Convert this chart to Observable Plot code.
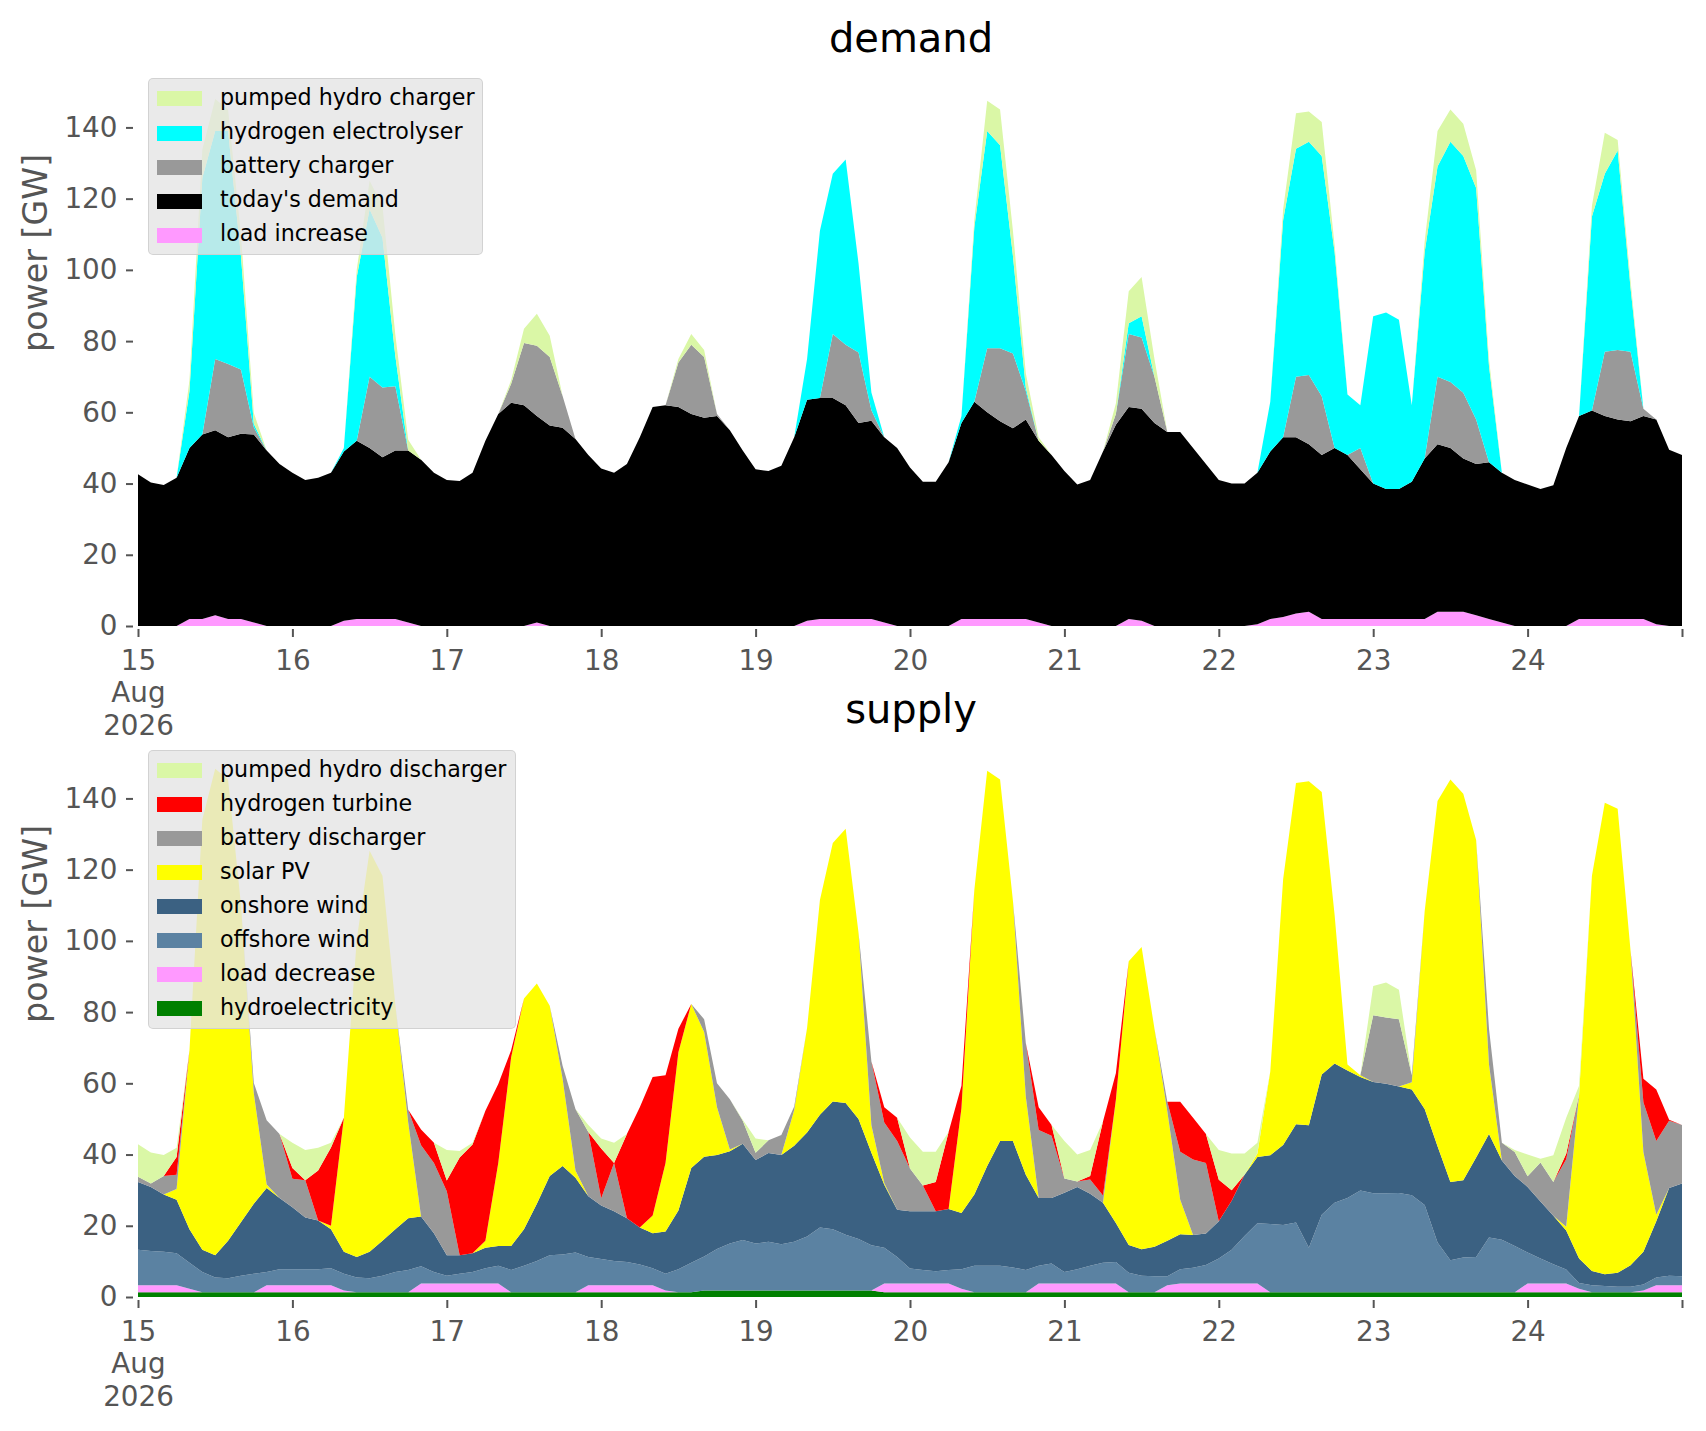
<!DOCTYPE html>
<html>
<head>
<meta charset="utf-8">
<script src="https://cdn.jsdelivr.net/npm/d3@7"></script>
<script src="https://cdn.jsdelivr.net/npm/@observablehq/plot@0.6"></script>
<style>
  html, body { margin: 0; padding: 0; background: #fff; }
  #fig { position: relative; width: 1706px; height: 1431px; overflow: hidden; font-family: "DejaVu Sans", sans-serif; background: #fff; }
  .panel { position: absolute; left: 0; }
  .legend { position: absolute; box-sizing: border-box; background: rgba(229,229,229,0.8); border: 1.5px solid rgba(204,204,204,0.8); border-radius: 5px; font-family: "DejaVu Sans", sans-serif; font-size: 22.2px; color: #000; }
  .legend .sw { position: absolute; left: 8px; width: 45px; height: 15px; }
  .legend .lb { position: absolute; left: 71px; height: 34px; line-height: 34px; white-space: nowrap; }
</style>
</head>
<body>
<div id="fig"></div>
<script>
// ---------- time axis: 2-hourly samples from 15 Aug 2026 00:00 to 25 Aug 2026 00:00 ----------
const t0 = Date.UTC(2026, 7, 15);
const hours = d3.range(0, 241, 2);
const dates = hours.map(h => new Date(t0 + h * 3600e3));

const tickDays = [15, 16, 17, 18, 19, 20, 21, 22, 23, 24, 25];
const tickLabels = ["15\nAug\n2026", "16", "17", "18", "19", "20", "21", "22", "23", "24", ""];
const yTicks = [0, 20, 40, 60, 80, 100, 120, 140];

// ---------- demand series (GW) ----------
const loadIncrease = [
  0,0,0,0,2,2,3,2,2,1,
  0,0,0,0,0,0,1.5,2,2,2,
  2,1,0,0,0,0,0,0,0,0,
  0,1,0,0,0,0,0,0,0,0,
  0,0,0,0,0,0,0,0,0,0,
  0,0,1.5,2,2,2,2,2,1,0,
  0,0,0,0,2,2,2,2,2,2,
  1,0,0,0,0,0,0,2,1.5,0,
  0,0,0,0,0,0,0,0.5,2,2.5,
  3.5,4,2,2,2,2,2,2,2,2,
  2,4,4,4,3,2,1,0,0,0,
  0,0,2,2,2,2,2,2,0.5,0,
  0];
const todaysDemand = [
  42.6,40.3,39.6,41.6,48,51.8,52,51,52,52.8,
  49.3,45.5,43,41,41.6,43,47.5,50,48,45.4,
  47.3,48.3,46.7,43,41,40.7,43,52,59.5,62.7,
  62,58,56.3,55.7,52.5,48,44.2,43,45.5,53,
  61.5,62,61.5,59.5,58.5,59,55,49.3,44,43.5,
  45,53,62,62,62,60,55,55.6,52,50,
  44.5,40.5,40.5,46,55,61,58,55.5,53.5,56,
  51,48,43.5,39.7,41,49,56.5,59.5,59.5,57,
  54.5,54.5,50,45.5,41,40,40,42.5,47,50.5,
  49.5,47,46,48,46,42,38,36.5,36.5,38.5,
  45,47,46,43,42.5,44,42,41,39.7,38.5,
  39.5,50,57,58.5,57,56,55.5,57,57.5,49.5,
  48];
const batteryCharger = [
  0,0,0,0,0,0,20,20.6,18,2,
  0,0,0,0,0,0,0,0,20,19.6,
  18,0,0,0,0,0,0,0,0,5.3,
  17.5,19.7,19.2,8.9,0,0,0,0,0,0,
  0,0,12.5,19.5,17,0.5,0,0,0,0,
  0,0,0,0,18,17,19.8,3,0,0,
  0,0,0,0,0,0,18,20.5,21,8,
  0,0,0,0,0,0,3,20.5,20,13,
  0,0,0,0,0,0,0,0,0,0,
  17,19.5,16.5,0,0,6,0,0,0,0,
  0,19,18.5,18.5,12.5,0,0,0,0,0,
  0,0,0,0,18,19.5,19.5,2,0,0,
  0];
const hydrogenElectrolyser = [
  0,0,0,0,16,72,64,65.4,32,1,
  0,0,0,0,0,0,1,46,47,42,
  8.5,0,0,0,0,0,0,0,0,0,
  0,0,0,0,0,0,0,0,0,0,
  0,0,0,0,0,0,0,0,0,0,
  0,0,11.5,47,45,52,25,5,0,0,
  0,0,0,0,2,49,61,57,27.5,1,
  0,0,0,0,0,0,0,3,6,0,
  0,0,0,0,0,0,0,0,14,61,
  64,65.5,67.5,55,17,12,47,49.5,47.5,21.5,
  58,59,67.5,66.5,65,27,0,0,0,0,
  0,0,0,54.5,50,56,18,0,0,0,
  0];
const pumpedHydroCharger = [
  0,0,0,0,3,8,9,6,6,3,
  0,0,0,0,0,0,0,2,8,9,
  6,3,0,0,0,0,0,0,0,1,
  4,9,6,0,0,0,0,0,0,0,
  0,0,1,3,2,0,0,0,0,0,
  0,0,0,0,0,0,0,0,0,0,
  0,0,0,0,0,2,8.5,10,7,4,
  1,0,0,0,0,0,3,9,11,5,
  0,0,0,0,0,0,0,0,0,3,
  10,8.5,9.5,2,0,0,0,0,0,0,
  3,10,9,9,5,2,0,0,0,0,
  0,0,0,3,11.5,3,2,0,0,0,
  0];

// ---------- supply series (GW) ----------
const hydroelectricity = [
  1.3,1.3,1.3,1.3,1.3,1.3,1.3,1.3,1.3,1.3,
  1.3,1.3,1.3,1.3,1.3,1.3,1.3,1.3,1.3,1.3,
  1.3,1.3,1.3,1.3,1.3,1.3,1.3,1.3,1.3,1.3,
  1.3,1.3,1.3,1.3,1.3,1.3,1.3,1.3,1.3,1.3,
  1.3,1.3,1.3,1.3,1.8,1.8,1.8,1.8,1.8,1.8,
  1.8,1.8,1.8,1.8,1.8,1.8,1.8,1.8,1.3,1.3,
  1.3,1.3,1.3,1.3,1.3,1.3,1.3,1.3,1.3,1.3,
  1.3,1.3,1.3,1.3,1.3,1.3,1.3,1.3,1.3,1.3,
  1.3,1.3,1.3,1.3,1.3,1.3,1.3,1.3,1.3,1.3,
  1.3,1.3,1.3,1.3,1.3,1.3,1.3,1.3,1.3,1.3,
  1.3,1.3,1.3,1.3,1.3,1.3,1.3,1.3,1.3,1.3,
  1.3,1.3,1.3,1.3,1.3,1.3,1.3,1.3,1.3,1.3,
  1.3];
const loadDecrease = [
  2,2,2,2,1,0,0,0,0,0,
  2,2,2,2,2,2,0.5,0,0,0,
  0,0,2.5,2.5,2.5,2.5,2.5,2.5,2.5,0,
  0,0,0,0,0,2,2,2,2,2,
  2,0.5,0,0,0,0,0,0,0,0,
  0,0,0,0,0,0,0,0,2.5,2.5,
  2.5,2.5,2.5,2.5,1,0,0,0,0,0,
  2.5,2.5,2.5,2.5,2.5,2.5,2.5,0,0,0,
  2,2.5,2.5,2.5,2.5,2.5,2.5,2.5,0,0,
  0,0,0,0,0,0,0,0,0,0,
  0,0,0,0,0,0,0,0,2.5,2.5,
  2.5,2.5,1,0,0,0,0,0.5,2,2,
  2];
const offshoreWind = [
  10,9.6,9.4,9,7.3,5.7,4.2,4,4.7,5.2,
  3.7,4.5,4.5,4.5,4.5,4.8,4.7,4.2,4,4.7,
  5.7,6.3,4.8,3.2,2.2,2.7,3.2,4.3,5,6.3,
  7.5,8.8,10.4,10.6,11.2,7.9,7.4,6.8,6.5,5.8,
  4.8,4.7,6.5,8.3,9.6,11.7,13.2,14.2,13.2,13.7,
  13,13.7,15.2,17.7,17.2,15.7,14.5,12.7,10,7.4,
  4.2,3.8,3.4,3.8,5.5,7.5,7.5,7.5,7,6.3,
  5,5.6,3.2,4,5,5.8,6,5.5,4.7,4.5,
  2.5,4,4.4,5.2,7,9.5,13.3,16.9,19.2,18.9,
  19.6,12.5,21.8,25.2,26.5,28.6,27.8,27.8,27.9,27.3,
  24.5,14,9,9.8,9.9,15.4,14.8,13,8.7,7,
  5.4,3.9,1.6,2,1.8,1.6,1.6,1.7,2.2,2.7,
  2.5];
const onshoreWind = [
  19,18,16.1,15,9.4,6.3,6.2,10.5,15,19.7,
  23.6,20,17.4,14.5,13.7,10.9,6.2,5.7,7.4,9.8,
  12,14.5,14,10.9,5.7,5.2,5.3,5.7,5.5,6.7,
  10.2,16.1,22.3,24.9,21,17.1,15,14,12.3,10.4,
  9.8,11.9,16.5,26.6,28,26.4,25.9,27,23.5,24.9,
  25.1,27,29.2,31.7,35.9,37,33.7,26,17.7,13.3,
  16.1,16.5,16.9,17.1,15.8,20,28,35,35.5,26.7,
  19,18.4,22.3,23.1,20.2,16.9,11,7.8,7.4,8.3,
  10,9.8,9.2,8.8,10.5,13.7,17.2,18.6,19.3,22.5,
  27.6,34.4,39.4,39.1,35.8,31.9,31.3,30.8,29.9,29.7,
  27,27,22,21.7,28,29.1,22.2,19.7,18.4,16,
  13.6,11,6.9,4,3.3,3.9,6,9.2,15.8,24.6,
  26.1];
const solarPV = [
  0,0,0,3,50.3,120.8,136.6,129.5,89.3,31,
  1,0,0,0,0,1,37.6,89.1,112.6,102.5,
  63.1,26.9,0,0,0,0,0,2,23.3,53,
  64.8,61.8,47.8,24.5,2,0,0,0,0,0,
  5,19.2,44.4,46.1,35,13.4,0.5,0,0,0,
  0,10,29.3,60.3,72.6,77,52.3,7.7,0.5,0,
  0,0,0,0,29.5,85.5,111,101.5,67.5,22,
  0,0,0,0,0,0,34.5,79.7,84.9,61.2,
  36.3,9.7,0,0,0,0,0,1,23.5,74.6,
  95.8,96.6,79.3,41.7,1.7,0.5,0,0,0,2,
  55.5,97,113,108.5,89.1,19.5,0,0,0,0,
  0,1,46,111,132.4,130.3,88.4,28,1.8,0,
  0];
const batteryDischarger = [
  1.5,1,5.2,4,0,0,0,0,0,2.9,
  18,18,8,10.5,0,0,0,0,0,0,
  0,3.6,20,19.7,18,0,0,0,0,0,
  0,0,0,3.6,17.3,18,2,13.5,0,0,
  0,0,0,0,3.6,6.7,14.1,6.5,2,3.6,
  5.6,1,0,0,0,0,0,17.9,17,19.3,
  12,7.2,0,0,0,0,0,0,0,15,
  19.1,17.5,4,1.5,4,2,0,0,0,0,
  2.7,13.5,21.2,19.8,0,0,0,0,0,0,
  0,0,0,0,0,0,18.7,18.6,18.9,2,
  0,0,0,0,0,10,5,6.7,3,11,
  9.5,19,0,0,0,0,0,14,20.7,18.9,
  16.4];
const hydrogenTurbine = [
  0,0,0,5,0,0,0,0,0,0,
  0,0,3,0,14,22,0,0,0,0,
  0,0,4.4,5.7,3,27.5,30.5,36.5,22.2,2,
  0,0,0,0,0,0,14,0,23.7,33.8,
  38.9,24.7,6.6,0,0,0,0,0,0,0,
  0,0,0,0,0,0,0,0,4.3,6.5,
  0,0,8.2,21.6,6.2,0,0,0,0,0,
  6.4,3,0,0,1,20.8,7.5,0,0,0,
  0,14,11.7,8.2,11.6,3,0,0,0,0,
  0,0,0,0,0,0,0,0,0,0,
  0,0,0,0,0,0,0,0,0,0,
  0,1.5,0,0,0,0,0,6.6,14.5,0.3,
  0];
const pumpedHydroDischarger = [
  9.1,8.7,5.9,2.6,0,0,0,0,0,0,
  0,0,7.1,8.5,6.4,1.3,0,0,0,0,
  0,0,0,0,8.6,1.8,0.5,0,0,0,
  0,0,0,0,0,2,2.8,5.7,0,0,
  0,0,0,0,0,0,0,0.3,4,0,
  0,0,0,0,0,0,0,0,0,0,
  8.7,9.5,8.5,0,0,0,0,0,0,0,
  0,0,10.5,7.6,7.3,0,0,0,0,0,
  0,0,0,0,8.4,10.3,6,3,0,0,
  0,0,0,0,0,0,8.2,9.8,8.3,0,
  0,0,0,0,0,0,0,0.6,6.1,1,
  7.5,10.1,2.5,0,0,0,0,0,0,0,
  0];

// ---------- series definitions (bottom of stack first) ----------
const demandSeries = [
  ["load increase", loadIncrease, "#ff99ff"],
  ["today's demand", todaysDemand, "#000000"],
  ["battery charger", batteryCharger, "#999999"],
  ["hydrogen electrolyser", hydrogenElectrolyser, "#00ffff"],
  ["pumped hydro charger", pumpedHydroCharger, "#daf7a6"]
];
const supplySeries = [
  ["hydroelectricity", hydroelectricity, "#008000"],
  ["load decrease", loadDecrease, "#ff99ff"],
  ["offshore wind", offshoreWind, "#5b82a2"],
  ["onshore wind", onshoreWind, "#3b6182"],
  ["solar PV", solarPV, "#ffff00"],
  ["battery discharger", batteryDischarger, "#999999"],
  ["hydrogen turbine", hydrogenTurbine, "#ff0000"],
  ["pumped hydro discharger", pumpedHydroDischarger, "#daf7a6"]
];

function toLong(series) {
  return series.flatMap(([name, values]) => values.map((v, i) => ({date: dates[i], value: v, series: name})));
}

const labelMap = new Map(tickDays.map((d, i) => [Date.UTC(2026, 7, d), tickLabels[i]]));
const tickDates = tickDays.map(d => new Date(Date.UTC(2026, 7, d)));

function makePanel(series, title, height, marginTop, marginBottom) {
  const names = series.map(s => s[0]);
  const colors = series.map(s => s[2]);
  return Plot.plot({
    width: 1706,
    height,
    marginLeft: 133,
    marginRight: 24,
    marginTop,
    marginBottom,
    style: {background: "transparent", overflow: "visible", fontFamily: "DejaVu Sans, sans-serif", color: "#555555"},
    x: {type: "utc", domain: [new Date(t0), new Date(t0 + 240 * 3600e3)], insetLeft: 5},
    y: {domain: [0, 155], insetBottom: 3},
    color: {domain: names, range: colors},
    marks: [
      Plot.areaY(toLong(series), {x: "date", y: "value", fill: "series", order: names, curve: "linear"}),
      Plot.axisX({ticks: tickDates, tickFormat: d => labelMap.get(+d), tickSize: 8, tickPadding: 9, fontSize: 27.8, lineHeight: 1.17, strokeWidth: 2, label: null}),
      Plot.axisY({ticks: yTicks, tickSize: 7, tickPadding: 9, fontSize: 27.8, strokeWidth: 2, label: null}),
      Plot.text([title], {text: d => d, frameAnchor: "top", dx: 3, dy: -35, fontSize: 40, fill: "#000", lineAnchor: "middle"}),
      Plot.text(["power [GW]"], {text: d => d, frameAnchor: "left", rotate: -90, dx: -97, fontSize: 33.3, fill: "#555555", lineAnchor: "middle"})
    ]
  });
}

const fig = document.getElementById("fig");

const demandPanel = makePanel(demandSeries, "demand", 745, 74, 116);
demandPanel.classList.add("panel");
demandPanel.style.top = "0px";
fig.appendChild(demandPanel);

const supplyPanel = makePanel(supplySeries, "supply", 751, 65, 131);
supplyPanel.classList.add("panel");
supplyPanel.style.top = "680px";
fig.appendChild(supplyPanel);

function addLegend(series, left, topPx, width, height, firstCenter, step) {
  const box = document.createElement("div");
  box.className = "legend";
  box.style.left = left + "px";
  box.style.top = topPx + "px";
  box.style.width = width + "px";
  box.style.height = height + "px";
  series.slice().reverse().forEach(([name, , color], i) => {
    const c = firstCenter + i * step;
    const sw = document.createElement("div");
    sw.className = "sw";
    sw.style.background = color;
    sw.style.top = (c - 7.5) + "px";
    const lb = document.createElement("div");
    lb.className = "lb";
    lb.style.top = (c - 19) + "px";
    lb.textContent = name;
    box.appendChild(sw);
    box.appendChild(lb);
  });
  fig.appendChild(box);
}
addLegend(demandSeries, 148, 78.4, 335, 177, 19.6, 34.1);
addLegend(supplySeries, 148, 750.4, 367.5, 279, 19.2, 34);
</script>
</body>
</html>
